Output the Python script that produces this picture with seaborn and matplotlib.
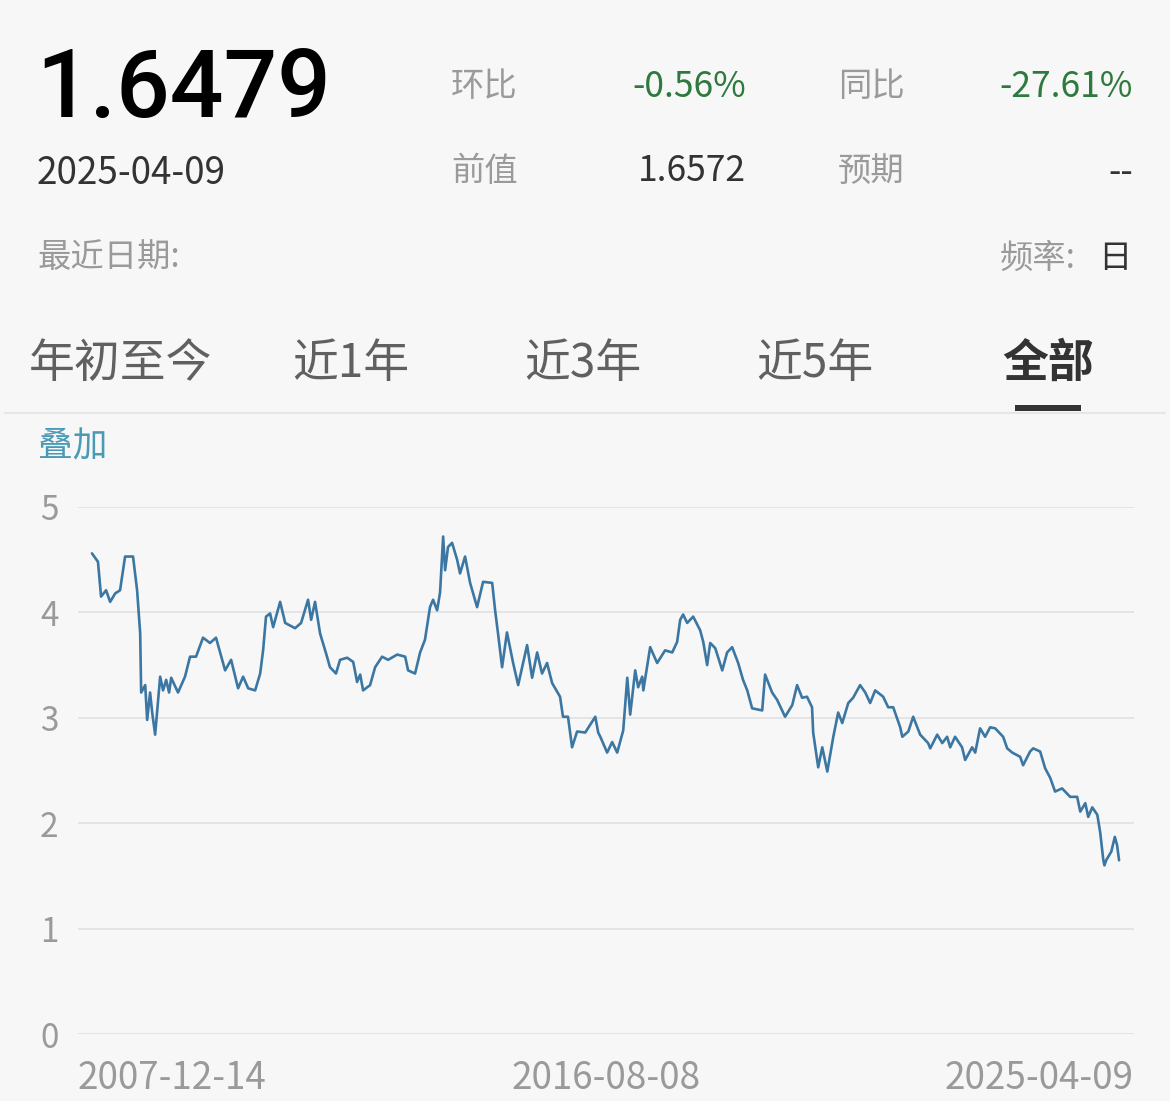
import pandas as pd
import matplotlib.pyplot as plt
import seaborn as sns
from matplotlib.patches import Rectangle
from matplotlib.lines import Line2D

# 数据
dates = [
    "2007-12-14", "2008-01-20", "2008-02-08", "2008-03-10", "2008-04-04", "2008-05-05",
    "2008-06-04", "2008-07-05", "2008-08-05", "2008-08-23", "2008-09-17", "2008-10-06",
    "2008-10-12", "2008-11-06", "2008-11-18", "2008-12-06", "2008-12-19", "2009-01-06",
    "2009-02-06", "2009-02-24", "2009-03-15", "2009-04-02", "2009-04-15", "2009-05-27",
    "2009-07-09", "2009-08-09", "2009-09-15", "2009-10-28", "2009-12-10", "2010-01-16",
    "2010-03-13", "2010-04-19", "2010-06-01", "2010-07-02", "2010-08-02", "2010-09-14",
    "2010-10-15", "2010-11-02", "2010-11-20", "2010-12-15", "2011-01-03", "2011-02-15",
    "2011-03-18", "2011-05-18", "2011-06-24", "2011-08-06", "2011-08-25", "2011-09-18",
    "2011-10-19", "2011-11-25", "2011-12-19", "2012-01-25", "2012-02-19", "2012-04-03",
    "2012-05-10", "2012-06-03", "2012-06-22", "2012-07-10", "2012-08-22", "2012-09-22",
    "2012-11-04", "2012-12-11", "2013-02-05", "2013-03-26", "2013-04-13", "2013-05-26",
    "2013-06-26", "2013-07-26", "2013-08-26", "2013-09-14", "2013-10-09", "2013-10-27",
    "2013-11-15", "2013-11-27", "2013-12-15", "2014-01-09", "2014-02-09", "2014-02-27",
    "2014-03-30", "2014-04-30", "2014-06-12", "2014-07-19", "2014-09-13", "2014-10-01",
    "2014-10-19", "2014-11-13", "2014-12-13", "2015-01-20", "2015-02-20", "2015-04-16",
    "2015-05-17", "2015-06-17", "2015-07-17", "2015-08-17", "2015-09-17", "2015-11-05",
    "2015-11-23", "2015-12-24", "2016-01-18", "2016-02-18", "2016-04-08", "2016-06-09",
    "2016-06-27", "2016-07-10", "2016-08-21", "2016-09-21", "2016-10-22", "2016-11-28",
    "2016-12-23", "2017-01-10", "2017-02-10", "2017-02-28", "2017-03-25", "2017-04-01",
    "2017-05-13", "2017-06-25", "2017-08-13", "2017-09-26", "2017-10-26", "2017-11-14",
    "2017-12-02", "2017-12-27", "2018-02-02", "2018-03-17", "2018-04-05", "2018-04-29",
    "2018-05-18", "2018-06-18", "2018-07-31", "2018-08-30", "2018-09-30", "2018-11-06",
    "2018-12-06", "2019-01-01", "2019-01-31", "2019-04-03", "2019-04-21", "2019-06-03",
    "2019-07-04", "2019-08-22", "2019-10-05", "2019-11-04", "2019-12-05", "2020-01-04",
    "2020-02-04", "2020-02-11", "2020-03-13", "2020-04-07", "2020-05-08", "2020-06-14",
    "2020-07-14", "2020-08-08", "2020-09-14", "2020-10-14", "2020-11-26", "2020-12-28",
    "2021-01-27", "2021-02-27", "2021-04-17", "2021-05-18", "2021-06-18", "2021-07-31",
    "2021-08-13", "2021-09-19", "2021-10-19", "2021-12-01", "2022-01-19", "2022-02-01",
    "2022-03-16", "2022-04-16", "2022-05-16", "2022-06-04", "2022-07-04", "2022-08-16",
    "2022-09-04", "2022-10-17", "2022-11-05", "2022-12-05", "2023-01-05", "2023-02-05",
    "2023-03-08", "2023-04-26", "2023-05-21", "2023-06-21", "2023-08-09", "2023-08-27",
    "2023-10-09", "2023-10-28", "2023-12-10", "2024-01-10", "2024-02-10", "2024-03-11",
    "2024-04-23", "2024-06-12", "2024-07-25", "2024-08-13", "2024-09-13", "2024-10-01",
    "2024-10-26", "2024-11-26", "2024-12-14", "2025-01-02", "2025-01-09", "2025-01-20",
    "2025-02-20", "2025-03-14", "2025-03-28", "2025-04-09",
]
values = [
    4.56, 4.48, 4.15, 4.21, 4.10, 4.18,
    4.21, 4.53, 4.53, 4.53, 4.21, 3.80,
    3.24, 3.31, 2.98, 3.24, 3.05, 2.84,
    3.39, 3.26, 3.36, 3.24, 3.38, 3.24,
    3.39, 3.58, 3.58, 3.76, 3.71, 3.76,
    3.45, 3.55, 3.28, 3.39, 3.28, 3.26,
    3.42, 3.64, 3.96, 3.99, 3.86, 4.10,
    3.90, 3.85, 3.90, 4.12, 3.93, 4.10,
    3.80, 3.61, 3.48, 3.42, 3.55, 3.57,
    3.53, 3.34, 3.41, 3.26, 3.31, 3.48,
    3.58, 3.55, 3.60, 3.58, 3.45, 3.42,
    3.62, 3.74, 4.05, 4.12, 4.02, 4.19,
    4.72, 4.40, 4.62, 4.66, 4.50, 4.37,
    4.53, 4.28, 4.05, 4.29, 4.28, 4.02,
    3.80, 3.48, 3.81, 3.52, 3.31, 3.69,
    3.38, 3.62, 3.42, 3.52, 3.33, 3.20,
    3.01, 3.01, 2.72, 2.87, 2.86, 3.01,
    2.86, 2.82, 2.67, 2.77, 2.67, 2.88,
    3.38, 3.03, 3.45, 3.29, 3.39, 3.26,
    3.67, 3.52, 3.64, 3.62, 3.72, 3.93,
    3.98, 3.90, 3.96, 3.83, 3.72, 3.50,
    3.71, 3.66, 3.45, 3.62, 3.67, 3.52,
    3.36, 3.26, 3.09, 3.07, 3.41, 3.24,
    3.17, 3.01, 3.12, 3.31, 3.19, 3.20,
    3.10, 2.86, 2.53, 2.72, 2.49, 2.82,
    3.05, 2.95, 3.14, 3.19, 3.31, 3.24,
    3.14, 3.26, 3.20, 3.10, 3.10, 2.91,
    2.82, 2.87, 3.01, 2.84, 2.76, 2.71,
    2.84, 2.76, 2.82, 2.72, 2.82, 2.72,
    2.60, 2.72, 2.67, 2.90, 2.82, 2.91,
    2.90, 2.82, 2.71, 2.67, 2.63, 2.55,
    2.68, 2.71, 2.68, 2.52, 2.43, 2.30,
    2.33, 2.25, 2.25, 2.11, 2.19, 2.06,
    2.15, 2.08, 1.91, 1.65, 1.60, 1.65,
    1.73, 1.87, 1.79, 1.6479,
]
y_ticks = [0, 1, 2, 3, 4, 5]
x_tick_labels = ["2007-12-14", "2016-08-08", "2025-04-09"]
tabs = ["年初至今", "近1年", "近3年", "近5年", "全部"]

df = pd.DataFrame({"date": pd.to_datetime(dates), "value": values})

BG = "#f7f7f7"
GRAY = "#9a9a9a"
DARK = "#333333"
GREEN = "#2e7a3e"
LINE = "#3b77a2"

sns.set_theme(style="whitegrid")
plt.rcParams["font.family"] = ["Noto Sans CJK SC", "DejaVu Sans"]

W, H = 1170, 1101
fig = plt.figure(figsize=(W / 100, H / 100), dpi=100, facecolor=BG)


def px(x, y):
    return x / W, 1 - y / H


# 顶部信息
fig.text(*px(36, 91), "1.6479", fontsize=68, color="black", va="center", ha="left",
         weight="medium", family=["Roboto", "Noto Sans CJK SC"])
fig.text(*px(37, 174), "2025-04-09", fontsize=26.5, color=DARK, va="center", ha="left")
fig.text(*px(451, 87), "环比", fontsize=24, color=GRAY, va="center", ha="left")
fig.text(*px(746, 87), "-0.56%", fontsize=25.5, color=GREEN, va="center", ha="right")
fig.text(*px(838, 87), "同比", fontsize=24, color=GRAY, va="center", ha="left")
fig.text(*px(1133, 87), "-27.61%", fontsize=25.5, color=GREEN, va="center", ha="right")
fig.text(*px(451, 171), "前值", fontsize=24, color=GRAY, va="center", ha="left")
fig.text(*px(746, 171), "1.6572", fontsize=25.5, color=DARK, va="center", ha="right")
fig.text(*px(838, 171), "预期", fontsize=24, color=GRAY, va="center", ha="left")
fig.text(*px(1133, 173), "--", fontsize=25.5, color=DARK, va="center", ha="right")
fig.text(*px(37, 258), "最近日期:", fontsize=24, color=GRAY, va="center", ha="left")
fig.text(*px(1076, 258), "频率:", fontsize=24, color=GRAY, va="center", ha="right")
fig.text(*px(1131, 258), "日", fontsize=24, color=DARK, va="center", ha="right")

# 标签页
tab_x = [121, 351, 583, 815, 1048]
for i, (t, x) in enumerate(zip(tabs, tab_x)):
    last = i == len(tabs) - 1
    fig.text(*px(x, 364), t, fontsize=33, color=DARK if last else "#606060",
             va="center", ha="center", weight="bold" if last else "normal")
fig.add_artist(Rectangle(px(1015, 411), 66 / W, 6 / H, transform=fig.transFigure,
                         color=DARK, lw=0))
fig.add_artist(Line2D([5 / W, 1165 / W], [1 - 413 / H] * 2, transform=fig.transFigure,
                      color="#e6e6e6", lw=1.5))
fig.text(*px(38, 447), "叠加", fontsize=25, color="#4a9ab6", va="center", ha="left")

# 图表
ax = fig.add_axes([78 / W, 1 - 1034 / H, (1134 - 78) / W, (1034 - 507) / H])
ax.set_facecolor(BG)
sns.lineplot(data=df, x="date", y="value", ax=ax, color=LINE, linewidth=1.9)

x0 = df["date"].iloc[0] - pd.Timedelta(days=86)
x1 = df["date"].iloc[-1] + pd.Timedelta(days=92)
ax.set_xlim(x0, x1)
ax.set_ylim(0, 5)
ax.set_yticks(y_ticks)
ax.set_yticklabels([str(v) for v in y_ticks], fontsize=24, color=GRAY)
ax.set_xticks([x0, x0 + (x1 - x0) / 2, x1])
ax.set_xticklabels(x_tick_labels, fontsize=26.5, color=GRAY)
for lab, ha in zip(ax.get_xticklabels(), ["left", "center", "right"]):
    lab.set_ha(ha)
ax.tick_params(axis="x", length=0, pad=18)
ax.tick_params(axis="y", length=0, pad=14)
ax.grid(axis="y", color="#e2e2e2", lw=1.3)
ax.grid(axis="x", visible=False)
for s in ax.spines.values():
    s.set_visible(False)
ax.set_xlabel("")
ax.set_ylabel("")

fig.savefig("out.png", dpi=100, facecolor=BG)
